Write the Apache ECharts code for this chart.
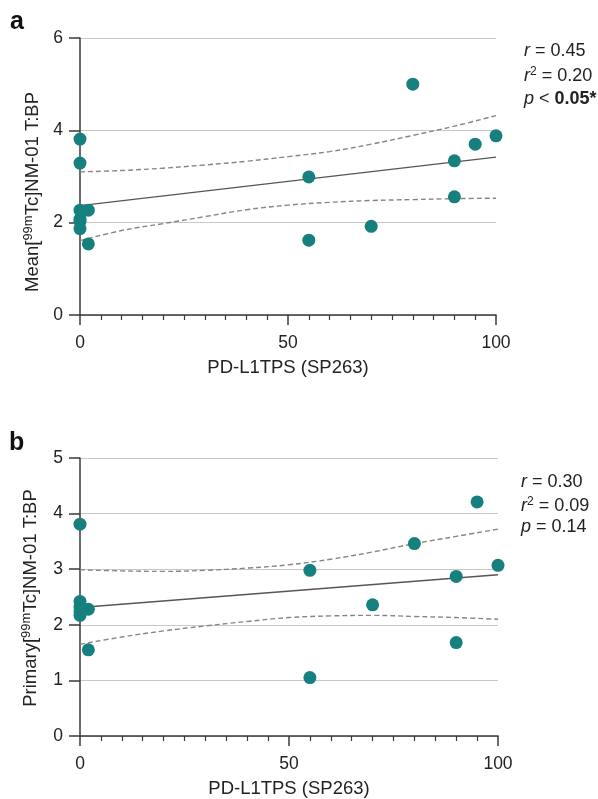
<!DOCTYPE html>
<html>
<head>
<meta charset="utf-8">
<script src="https://cdn.jsdelivr.net/npm/echarts@6/dist/echarts.min.js"></script>
<style>html,body{margin:0;padding:0;background:#fff}#c{width:598px;height:799px}</style>
</head>
<body>
<div id="c"></div>
<script>
// Panel a data
var aX = [0, 0, 0, 2, 0, 0, 0, 2, 55, 55, 70, 80, 90, 90, 95, 100];
var aY = [3.81, 3.29, 2.27, 2.27, 2.08, 2.03, 1.87, 1.54, 2.99, 1.62, 1.92, 5.0, 3.34, 2.56, 3.70, 3.88];
var aFitX = [0, 100];
var aFitY = [2.37, 3.42];
var ciX = [0, 10, 20, 30, 40, 50, 60, 70, 80, 90, 100];
var aUpper = [3.10, 3.13, 3.18, 3.25, 3.33, 3.43, 3.54, 3.70, 3.89, 4.09, 4.32];
var aLower = [1.61, 1.83, 1.98, 2.13, 2.28, 2.38, 2.44, 2.48, 2.50, 2.52, 2.53];
// Panel b data
var bX = [0, 0, 0, 0, 0, 2, 2, 55, 55, 70, 80, 90, 90, 95, 100];
var bY = [3.81, 2.42, 2.32, 2.25, 2.17, 2.28, 1.55, 2.98, 1.05, 2.36, 3.46, 2.87, 1.68, 4.21, 3.07];
var bFitX = [0, 100];
var bFitY = [2.31, 2.90];
var bUpper = [2.99, 2.97, 2.96, 2.98, 3.02, 3.08, 3.18, 3.31, 3.46, 3.59, 3.72];
var bLower = [1.65, 1.78, 1.89, 1.98, 2.06, 2.13, 2.16, 2.17, 2.15, 2.13, 2.10];
// Axis ticks
var xTicks = [0, 50, 100];
var aYMax = 6, aYStep = 2;
var bYMax = 5, bYStep = 1;
var xTitle = 'PD-L1TPS (SP263)';
var statsA = ['0.45', '0.20', '0.05*'];
var statsB = ['0.30', '0.09', '0.14'];

function zip(xs, ys){ return xs.map(function(x,i){ return [x, ys[i]]; }); }

var FONT = '"Liberation Sans", Arial, Helvetica, sans-serif';
var TEAL = '#16807e';
var SF = 18;
var chart = echarts.init(document.getElementById('c'), null, {renderer:'canvas'});

function xAxisCfg(gi){
  return {
    gridIndex: gi, type:'value', min: xTicks[0], max: xTicks[xTicks.length-1], interval: 50,
    name: xTitle, nameLocation:'middle', nameGap: 43,
    nameTextStyle:{fontSize:18.5, color:'#222', fontFamily:FONT},
    axisLine:{show:true, lineStyle:{color:'#3a3a3a', width:1.5}},
    axisTick:{show:true, length:10, lineStyle:{color:'#3a3a3a', width:1.5}},
    minorTick:{show:true, splitNumber:10, length:5, lineStyle:{color:'#3a3a3a', width:1.2}},
    axisLabel:{fontSize:17.5, color:'#222', margin:19, fontFamily:FONT},
    splitLine:{show:false}
  };
}
function yAxisCfg(gi, max, step){
  return {
    gridIndex: gi, type:'value', min:0, max:max, interval:step,
    axisLine:{show:true, lineStyle:{color:'#3a3a3a', width:1.5}},
    axisTick:{show:true, length:11, lineStyle:{color:'#3a3a3a', width:1.5}},
    axisLabel:{fontSize:17.5, color:'#222', margin:17, fontFamily:FONT},
    splitLine:{show:true, lineStyle:{color:'#cdc6c2', width:1.2}}
  };
}
function scatter(i, xs, ys){
  return {type:'scatter', xAxisIndex:i, yAxisIndex:i, data: zip(xs, ys), symbolSize:13,
    itemStyle:{color:TEAL, opacity:1}, clip:false, z:5};
}
function fit(i, xs, ys){
  return {type:'line', xAxisIndex:i, yAxisIndex:i, data: zip(xs, ys), symbol:'none',
    lineStyle:{color:'#5a5555', width:1.4}, z:3, silent:true};
}
function ci(i, xs, ys){
  return {type:'line', xAxisIndex:i, yAxisIndex:i, data: zip(xs, ys), symbol:'none', smooth:0.4,
    lineStyle:{color:'#8a8484', width:1.4, type:[5,3]}, z:3, silent:true};
}
function txt(x, y, text, rich){
  return {type:'text', x:x, y:y, style:{text:text, rich:rich, fontSize:SF, fontFamily:FONT, fill:'#222', verticalAlign:'middle'}};
}
var RI = {i:{fontStyle:'italic', fontSize:SF, fontFamily:FONT}, s:{fontSize:12, padding:[0,0,9,0], fontFamily:FONT}, b:{fontWeight:'bold', fontSize:SF, fontFamily:FONT}};
var gA = [
  txt(524, 51, '{i|r} = ' + statsA[0], RI),
  txt(524, 76, '{i|r}{s|2} = ' + statsA[1], RI),
  txt(524, 99, '{i|p} < {b|' + statsA[2] + '}', RI)
];
var gB = [
  txt(521, 482, '{i|r} = ' + statsB[0], RI),
  txt(521, 506, '{i|r}{s|2} = ' + statsB[1], RI),
  txt(521, 527, '{i|p} = ' + statsB[2], RI)
];

function yName(x, y, prefix){
  return {type:'text', x:x, y:y, rotation:Math.PI/2,
    style:{text:'{n|' + prefix + '[}{s|99m}{n|Tc]NM-01 T:BP}',
      rich:{n:{fontSize:18.5, fontFamily:FONT}, s:{fontSize:13, padding:[0,0,10,0], fontFamily:FONT}},
      fill:'#222', align:'center', verticalAlign:'middle'}};
}

var option = {
  animation:false,
  backgroundColor:'#fff',
  grid:[
    {left:80, right:102, top:38, height:277},
    {left:80, right:100, top:458, height:280}
  ],
  xAxis:[xAxisCfg(0), xAxisCfg(1)],
  yAxis:[yAxisCfg(0, aYMax, aYStep), yAxisCfg(1, bYMax, bYStep)],
  series:[
    ci(0, ciX, aUpper), ci(0, ciX, aLower), fit(0, aFitX, aFitY), scatter(0, aX, aY),
    ci(1, ciX, bUpper), ci(1, ciX, bLower), fit(1, bFitX, bFitY), scatter(1, bX, bY)
  ],
  graphic:[
    {type:'text', x:10, y:22, style:{text:'a', fontSize:25, fontWeight:'bold', fontFamily:FONT, fill:'#111', verticalAlign:'middle'}},
    {type:'text', x:9, y:443, style:{text:'b', fontSize:25, fontWeight:'bold', fontFamily:FONT, fill:'#111', verticalAlign:'middle'}},
    yName(33, 192, 'Mean'),
    yName(31, 598, 'Primary')
  ].concat(gA).concat(gB)
};
chart.setOption(option);
</script>
</body>
</html>
